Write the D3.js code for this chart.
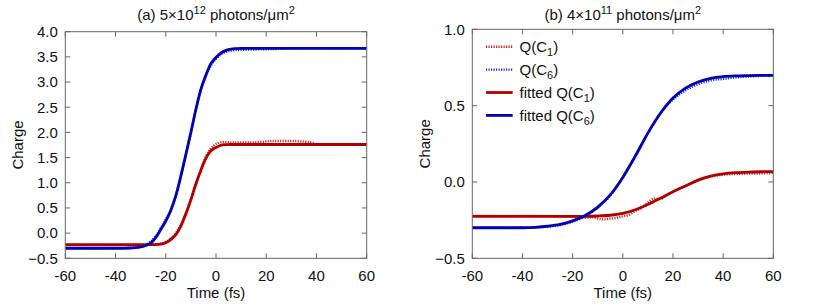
<!DOCTYPE html>
<html>
<head>
<meta charset="utf-8">
<script src="https://cdn.jsdelivr.net/npm/d3@7"></script>
<style>
  body { margin: 0; background: #fff; }
  svg { font-family: "Liberation Sans", Arial, sans-serif; }
  .tick-label { font-size: 15px; fill: #111; }
  .title { font-size: 15px; fill: #111; }
</style>
</head>
<body>
<div id="chart"></div>
<script>
// panel (a): 5e12 photons/um^2
const timeA = [-60, -50, -40, -34, -32, -30, -28, -26, -24, -22, -20, -18, -16, -14, -12, -10, -8, -6, -4, -2, 0, 2, 4, 6, 8, 10, 14, 18, 22, 26, 30, 34, 38, 40, 44, 50, 60];
const fitC1A = [-0.23, -0.23, -0.23, -0.23, -0.23, -0.23, -0.23, -0.23, -0.228, -0.22, -0.19, -0.13, -0.03, 0.14, 0.38, 0.66, 0.98, 1.25, 1.49, 1.635, 1.70, 1.745, 1.757, 1.76, 1.76, 1.76, 1.76, 1.76, 1.76, 1.76, 1.76, 1.76, 1.76, 1.76, 1.76, 1.76, 1.76];
const fitC6A = [-0.30, -0.30, -0.30, -0.295, -0.29, -0.275, -0.245, -0.20, -0.09, 0.07, 0.24, 0.45, 0.74, 1.13, 1.56, 2.00, 2.46, 2.86, 3.14, 3.37, 3.49, 3.58, 3.63, 3.655, 3.665, 3.67, 3.67, 3.67, 3.67, 3.67, 3.67, 3.67, 3.67, 3.67, 3.67, 3.67, 3.67];
const qC1A = [-0.235, -0.235, -0.235, -0.235, -0.235, -0.235, -0.232, -0.228, -0.22, -0.21, -0.17, -0.11, 0.0, 0.16, 0.40, 0.68, 0.96, 1.26, 1.52, 1.68, 1.77, 1.80, 1.81, 1.80, 1.80, 1.80, 1.80, 1.81, 1.83, 1.83, 1.83, 1.82, 1.80, 1.76, 1.755, 1.755, 1.755];
const qC6A = [-0.30, -0.30, -0.30, -0.295, -0.285, -0.27, -0.23, -0.17, -0.06, 0.10, 0.27, 0.47, 0.76, 1.14, 1.57, 2.00, 2.45, 2.84, 3.12, 3.33, 3.46, 3.55, 3.60, 3.625, 3.635, 3.64, 3.645, 3.65, 3.655, 3.66, 3.665, 3.67, 3.67, 3.67, 3.67, 3.67, 3.67];

// panel (b): 4e11 photons/um^2
const timeB = [-60, -50, -40, -35, -30, -25, -20, -15, -10, -5, 0, 5, 10, 15, 20, 25, 30, 35, 40, 45, 50, 55, 60];
const fitC1B = [-0.225, -0.225, -0.225, -0.225, -0.225, -0.225, -0.225, -0.225, -0.223, -0.218, -0.205, -0.182, -0.148, -0.107, -0.064, -0.026, 0.012, 0.038, 0.053, 0.061, 0.065, 0.067, 0.068];
const fitC6B = [-0.30, -0.30, -0.30, -0.297, -0.29, -0.278, -0.255, -0.22, -0.165, -0.085, 0.03, 0.17, 0.32, 0.45, 0.55, 0.615, 0.655, 0.678, 0.69, 0.695, 0.697, 0.698, 0.698];
const dataTimeB = [-60, -50, -40, -30, -25, -20, -17.5, -15, -12.5, -10, -7.5, -5, -2.5, 0, 2.5, 5, 7.5, 10, 12.5, 15, 17.5, 20, 25, 30, 35, 40, 45, 50, 55, 60];
const qC1B = [-0.222, -0.222, -0.222, -0.223, -0.225, -0.228, -0.232, -0.235, -0.23, -0.24, -0.245, -0.24, -0.235, -0.225, -0.215, -0.19, -0.17, -0.135, -0.11, -0.11, -0.085, -0.065, -0.025, 0.01, 0.035, 0.048, 0.052, 0.055, 0.056, 0.06];
const qC6B = [-0.30, -0.30, -0.30, -0.293, -0.283, -0.26, -0.245, -0.225, -0.20, -0.17, -0.13, -0.09, -0.03, 0.03, 0.10, 0.17, 0.245, 0.32, 0.39, 0.45, 0.50, 0.54, 0.60, 0.64, 0.665, 0.675, 0.685, 0.69, 0.695, 0.697];

const xTicks = [-60, -40, -20, 0, 20, 40, 60];
const yTicksA = [-0.5, 0.0, 0.5, 1.0, 1.5, 2.0, 2.5, 3.0, 3.5, 4.0];
const yTicksB = [-0.5, 0.0, 0.5, 1.0];

const colors = {
  qC1: '#d42424',
  qC6: '#2a2ad2',
  fitC1: '#b00000',
  fitC6: '#0000b4'
};

const svg = d3.select('#chart').append('svg')
  .attr('width', 814)
  .attr('height', 305);

function zipPts(t, v) {
  return t.map((d, i) => ({ t: d, v: v[i] }));
}

function drawPanel(opts) {
  const x = d3.scaleLinear().domain([-60, 60]).range([opts.left, opts.right]);
  const y = d3.scaleLinear().domain(opts.yDomain).range([opts.bottom, opts.top]);
  const g = svg.append('g');

  const line = d3.line()
    .x(d => x(d.t))
    .y(d => y(d.v))
    .curve(d3.curveMonotoneX);

  const clipId = 'clip-' + opts.key;
  svg.append('clipPath').attr('id', clipId)
    .append('rect')
    .attr('x', opts.left).attr('y', opts.top)
    .attr('width', opts.right - opts.left).attr('height', opts.bottom - opts.top);

  const plot = g.append('g').attr('clip-path', 'url(#' + clipId + ')');

  // raw data first, fitted on top (gnuplot order)
  opts.series.forEach(s => {
    plot.append('path')
      .datum(zipPts(s.t, s.v))
      .attr('fill', 'none')
      .attr('stroke', s.color)
      .attr('stroke-width', s.dotted ? 2.4 : 2.8)
      .attr('stroke-dasharray', s.dotted ? '1.2,1.3' : null)
      .attr('d', line);
  });

  // border box
  g.append('rect')
    .attr('x', opts.left).attr('y', opts.top)
    .attr('width', opts.right - opts.left).attr('height', opts.bottom - opts.top)
    .attr('fill', 'none')
    .attr('stroke', '#666')
    .attr('stroke-width', 1);

  const tickLen = 5;
  // x ticks, mirrored on top
  xTicks.forEach(t => {
    const px = x(t);
    g.append('line').attr('x1', px).attr('x2', px)
      .attr('y1', opts.bottom).attr('y2', opts.bottom - tickLen)
      .attr('stroke', '#666');
    g.append('line').attr('x1', px).attr('x2', px)
      .attr('y1', opts.top).attr('y2', opts.top + tickLen)
      .attr('stroke', '#666');
    g.append('text')
      .attr('class', 'tick-label')
      .attr('x', px).attr('y', opts.bottom + 23)
      .attr('text-anchor', 'middle')
      .text(t);
  });

  // y ticks, mirrored on right
  opts.yTicks.forEach(v => {
    const py = y(v);
    g.append('line').attr('x1', opts.left).attr('x2', opts.left + tickLen)
      .attr('y1', py).attr('y2', py)
      .attr('stroke', '#666');
    g.append('line').attr('x1', opts.right).attr('x2', opts.right - tickLen)
      .attr('y1', py).attr('y2', py)
      .attr('stroke', '#666');
    g.append('text')
      .attr('class', 'tick-label')
      .attr('x', opts.left - 7.5).attr('y', py + 5.3)
      .attr('text-anchor', 'end')
      .text(d3.format('.1f')(v));
  });

  // axis labels
  g.append('text')
    .attr('class', 'title')
    .attr('x', (opts.left + opts.right) / 2).attr('y', opts.bottom + 39.5)
    .attr('text-anchor', 'middle')
    .text('Time (fs)');

  g.append('text')
    .attr('class', 'title')
    .attr('transform', 'translate(' + opts.yLabelX + ',' + ((opts.top + opts.bottom) / 2) + ') rotate(-90)')
    .attr('text-anchor', 'middle')
    .text('Charge');

  // title with superscripts
  const title = g.append('text')
    .attr('class', 'title')
    .attr('x', (opts.left + opts.right) / 2).attr('y', 20)
    .attr('text-anchor', 'middle');
  title.append('tspan').text(opts.titleParts[0]);
  title.append('tspan').attr('dy', -6).attr('font-size', '11px').text(opts.titleParts[1]);
  title.append('tspan').attr('dy', 6).text(opts.titleParts[2]);
  title.append('tspan').attr('dy', -6).attr('font-size', '11px').text('2');

  return { x, y, g };
}

drawPanel({
  key: 'a',
  left: 65.3, right: 366.7, top: 31.7, bottom: 258.3,
  yDomain: [-0.5, 4.0],
  yTicks: yTicksA,
  yLabelX: 23,
  titleParts: ['(a) 5\u00d710', '12', ' photons/\u03bcm'],
  series: [
    { t: timeA, v: qC1A, color: colors.qC1, dotted: true },
    { t: timeA, v: qC6A, color: colors.qC6, dotted: true },
    { t: timeA, v: fitC1A, color: colors.fitC1 },
    { t: timeA, v: fitC6A, color: colors.fitC6 }
  ]
});

const panelB = drawPanel({
  key: 'b',
  left: 472.3, right: 773.3, top: 29.3, bottom: 258.3,
  yDomain: [-0.5, 1.0],
  yTicks: yTicksB,
  yLabelX: 430,
  titleParts: ['(b) 4\u00d710', '11', ' photons/\u03bcm'],
  series: [
    { t: dataTimeB, v: qC1B, color: colors.qC1, dotted: true },
    { t: dataTimeB, v: qC6B, color: colors.qC6, dotted: true },
    { t: timeB, v: fitC1B, color: colors.fitC1 },
    { t: timeB, v: fitC6B, color: colors.fitC6 }
  ]
});

// legend in panel (b)
const legendItems = [
  { label: 'Q(C', sub: '1', color: colors.qC1, dotted: true },
  { label: 'Q(C', sub: '6', color: colors.qC6, dotted: true },
  { label: 'fitted Q(C', sub: '1', color: colors.fitC1 },
  { label: 'fitted Q(C', sub: '6', color: colors.fitC6 }
];
const legend = panelB.g.append('g');
legendItems.forEach((d, i) => {
  const cy = 46.7 + i * 22.9;
  legend.append('line')
    .attr('x1', 486).attr('x2', 512.7)
    .attr('y1', cy).attr('y2', cy)
    .attr('stroke', d.color)
    .attr('stroke-width', d.dotted ? 2.4 : 2.8)
    .attr('stroke-dasharray', d.dotted ? '1.2,1.3' : null);
  const txt = legend.append('text')
    .attr('class', 'title')
    .attr('x', 519.5).attr('y', cy + 5.5);
  txt.append('tspan').text(d.label);
  txt.append('tspan').attr('dy', 4).attr('font-size', '11px').text(d.sub);
  txt.append('tspan').attr('dy', -4).text(')');
});
</script>
</body>
</html>
